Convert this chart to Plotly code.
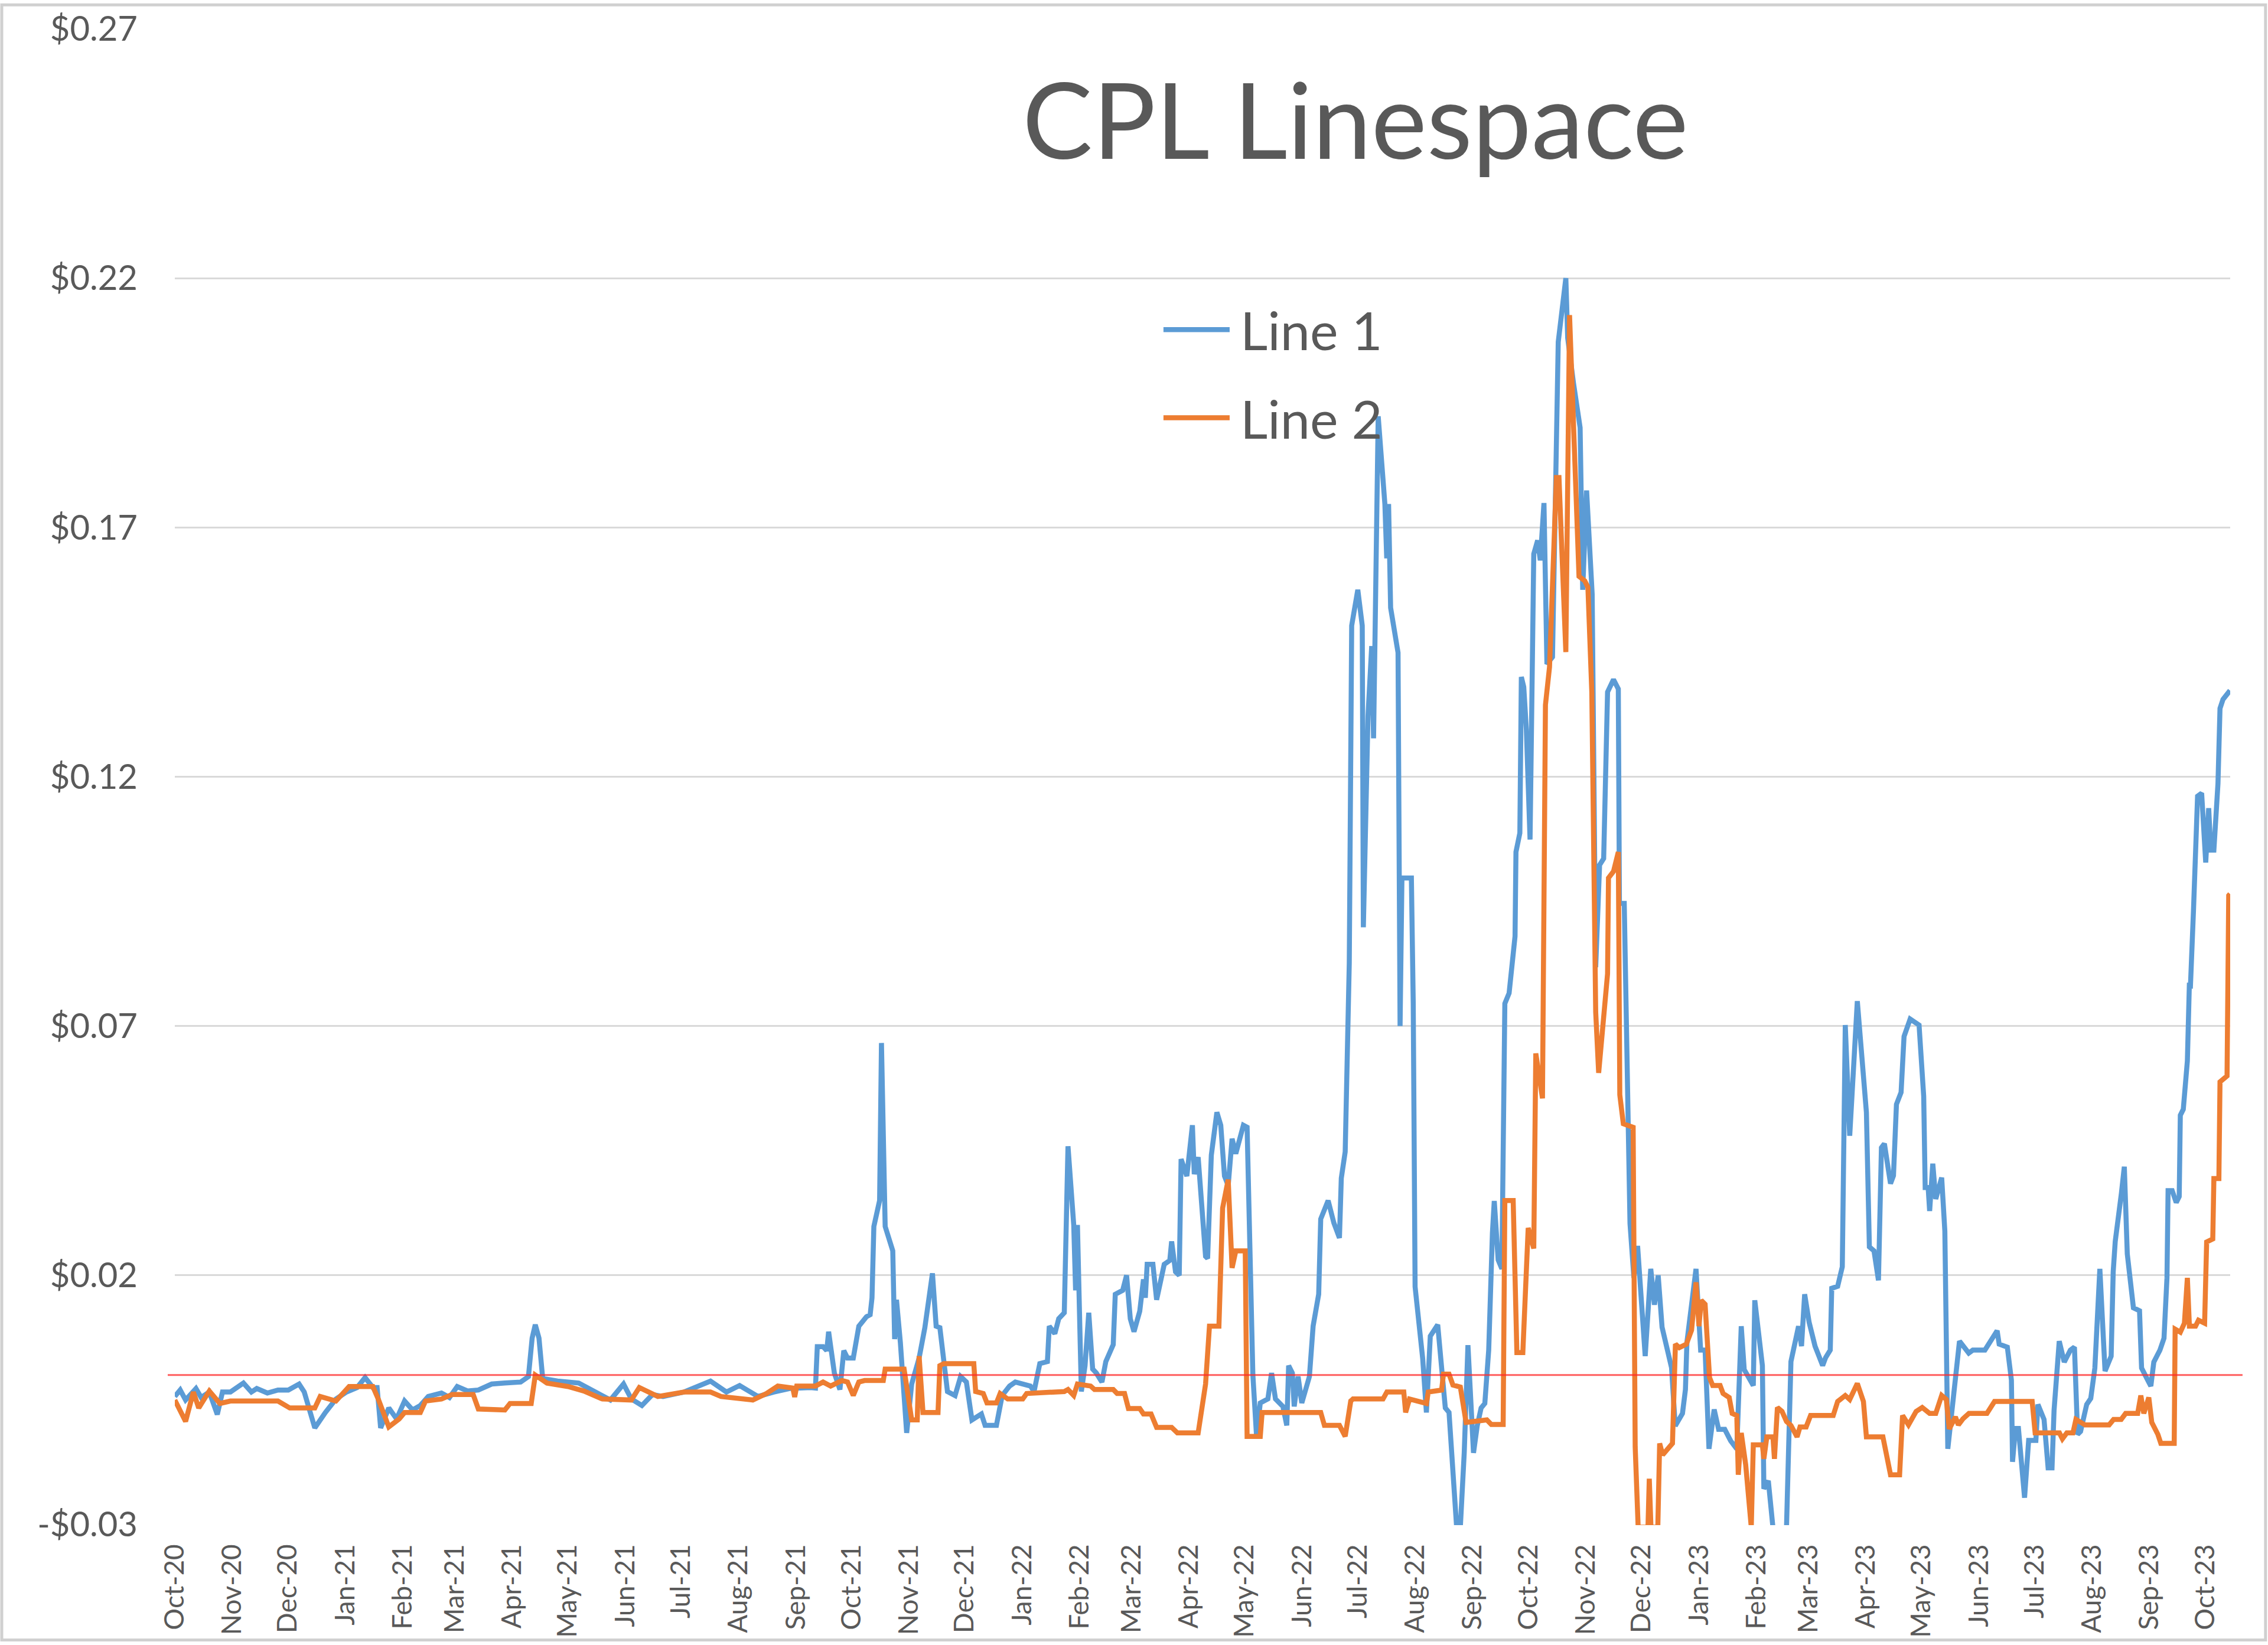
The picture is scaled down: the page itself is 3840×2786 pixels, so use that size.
import pandas as pd
import plotly.graph_objects as go

# ---------------- data ----------------
title_text = "CPL Linespace"
series_names = ["Line 1", "Line 2"]
start_date = "2020-10-01"          # day 0 of the day offsets below
axis_end_day = 1108.5

# Line 1: (days after start_date, value in $)
line1_days = [0, 2.9, 5.8, 11.4, 14.2, 18.6, 22.9, 25.7, 30, 37, 41.3, 44.2, 49.9, 55.6, 61.2, 67, 69.8, 75.5,
              81.2, 86.9, 92.6, 98.3, 102.6, 106.8, 109.1, 111, 115.4, 119.6, 123.9, 128.2, 132.4, 136.7, 143.8,
              148.1, 152.3, 158, 163.7, 170.9, 178, 186.5, 190.7, 192.7, 194.4, 196.4, 198.4, 206.4, 217.8, 229.2,
              234.9, 242, 246.2, 251.9, 257.6, 263.3, 274.7, 288.9, 297.5, 304.6, 314.5, 323, 331.6, 342.9,
              345.5, 346.5, 349.6, 351.6, 352.6, 355.7, 358.7, 360.8, 362.8, 365.9, 368.9, 373, 375, 376, 377,
              380.1, 381.1, 383.1, 387.2, 388.2, 389.2, 391.3, 394.7, 397.4, 401.4, 404.5, 408.6, 410.6, 412.6,
              416.7, 420.8, 423.8, 426.9, 429.9, 435, 437, 443.1, 446.2, 450.2, 453.3, 457.3, 461.4, 463.4, 466.5,
              470.6, 471.6, 474.6, 476.7, 479.7, 481.7, 484.8, 485.8, 486.8, 488.9, 490.9, 492.9, 495, 497, 500,
              502.1, 506.1, 507.2, 511.2, 513.3, 515.3, 517.3, 520.4, 522.4, 523.4, 524.4, 527.5, 529.5, 533.6,
              536.6, 537.6, 539.7, 541.7, 542.7, 545.8, 548.8, 549.8, 551.9, 555.9, 557, 559, 562, 564.1, 566.1,
              568.1, 570.2, 572.2, 576.3, 578.3, 580.3, 581.4, 583.4, 585.4, 589.5, 591.5, 593.6, 597.6, 599.7,
              600.7, 602.7, 603.7, 605.8, 607.8, 611.9, 613.9, 616.9, 618, 622, 625.1, 628.1, 629.1, 631.2, 632.3,
              633.4, 634.7, 638, 640.4, 641, 643.5, 645.5, 646.5, 647.5, 649, 652.6, 653.6, 654.6, 655.7, 659.7,
              660.2, 660.8, 661.8, 666.9, 667.9, 668.9, 673, 675, 677.1, 681.1, 683.2, 685.2, 687.2, 689.3, 691.3,
              693.3, 695.4, 697.4, 700.4, 702.4, 704.5, 706.5, 708.6, 710.6, 711.6, 713.7, 715.7, 717.3, 719.6,
              722.8, 723.3, 725.4, 726.2, 727.5, 728.9, 730.9, 732.9, 735, 736.4, 738.4, 740, 743, 746.1, 750.2,
              751.2, 754.3, 757.9, 759.3, 761.4, 764.4, 766.3, 768.4, 770.6, 772.7, 775.9, 778.5, 779.1, 781.7,
              782.8, 784.8, 786.9, 788.9, 793, 796, 798, 800, 802.1, 807.2, 809.2, 813.1, 814.7, 815.5, 820.4,
              822.9, 825.3, 827.4, 830.2, 832.6, 835.9, 839.1, 842.4, 844.8, 846.4, 851.3, 852.1, 856.2, 857,
              859.4, 861.9, 869.2, 871.6, 875.7, 877.3, 879, 881.4, 884.6, 888.7, 890.3, 892.8, 893.6, 896.8,
              899.3, 900.9, 903.3, 907.4, 912.3, 913.9, 916.4, 918.8, 920.4, 922, 925.3, 926.9, 928.5, 931, 932.6,
              935.9, 940.7, 943.2, 944, 945.6, 946.4, 948.1, 949.7, 952.9, 954.6, 956.2, 962.5, 967.5, 969.7,
              976.2, 978.4, 982.8, 983.9, 988.3, 990.5, 991.1, 992.7, 994.3, 997.6, 999.8, 1003.7, 1004.8, 1008.1,
              1010.3, 1012.4, 1013.5, 1016.3, 1019, 1022.3, 1024.5, 1026.2, 1027.8, 1031.1, 1033.3, 1035.5,
              1038.2, 1041, 1044.3, 1045.4, 1046.5, 1049.8, 1051.4, 1053, 1056.3, 1059.6, 1060.7, 1064, 1065.7,
              1067.3, 1070.6, 1072.8, 1074.4, 1075, 1077.2, 1079.4, 1081, 1081.6, 1083.2, 1085.4, 1086.5, 1087,
              1088.7, 1090.9, 1093.1, 1095.3, 1096.9, 1098, 1099.7, 1101.9, 1103, 1104.6, 1108.4]
line1_vals = [-0.0043, -0.003, -0.005, -0.0027, -0.0045, -0.0034, -0.0079, -0.0034, -0.0034, -0.0016, -0.0034,
              -0.0027, -0.0036, -0.003, -0.003, -0.0018, -0.0034, -0.0106, -0.0075, -0.0048, -0.0034, -0.0025,
              -0.0005, -0.0025, -0.0025, -0.0106, -0.0066, -0.0088, -0.0052, -0.007, -0.0061, -0.0043, -0.0036,
              -0.0045, -0.0023, -0.0032, -0.003, -0.0018, -0.0016, -0.0014, -0.0003, 0.0074, 0.0101, 0.0074,
              -0.0007, -0.0012, -0.0016, -0.0039, -0.005, -0.0018, -0.0048, -0.0061, -0.0039, -0.0043, -0.0034,
              -0.0012, -0.0034, -0.0021, -0.0043, -0.0034, -0.0027, -0.0025,
              -0.0026, 0.0057, 0.0057, 0.0049, 0.0087, 0.0004, -0.0029, 0.0049, 0.0034, 0.0034, 0.0098, 0.0117,
              0.0121, 0.0155, 0.0298, 0.035, 0.0666, 0.0298, 0.0249, 0.0072, 0.0151, 0.0065, -0.0116, -0.0018,
              0.0034, 0.0095, 0.0204, 0.0098, 0.0095, -0.0033, -0.0041, -0.0003, -0.0014, -0.009, -0.0078,
              -0.0101, -0.0101, -0.0041, -0.0022, -0.0014, -0.0018, -0.0022, -0.0033, 0.0023, 0.0027, 0.0098,
              0.0083, 0.0113, 0.0125, 0.0459, 0.0301, 0.017, 0.0301, -0.0033, 0.0019, 0.0125, 0.0012, 0.0004,
              -0.0014, 0.0027, 0.0061, 0.0162, 0.017, 0.02, 0.0113, 0.0087, 0.0128, 0.0192, 0.0155, 0.0222,
              0.0222, 0.0151, 0.0222, 0.023, 0.0268, 0.0207, 0.02, 0.0433, 0.0399, 0.0501, 0.0403, 0.0437, 0.0238,
              0.0234, 0.0441, 0.0527, 0.0501, 0.0399, 0.038, 0.0474, 0.0444, 0.0501, 0.0497, 0.0147, 0.0001,
              -0.0123, -0.0056, -0.0048, 0.0004, -0.0048, -0.0063, -0.0101, 0.0019, 0.0004, -0.0063, -0.0003,
              -0.0056, -0.0003, 0.0098, 0.0162, 0.0313, 0.035, 0.0305, 0.0275, 0.0395, 0.0448, 0.0691, 0.0826,
              0.1503, 0.1575, 0.1503, 0.0898, 0.1322, 0.1462, 0.1277, 0.1602, 0.1923, 0.1747, 0.1638, 0.1747,
              0.1539, 0.1449, 0.1002, 0.07, 0.0997, 0.0997, 0.0745, 0.0177, 0.0033, -0.0075, 0.0078, 0.0101,
              0.0015, -0.0066, -0.0075, -0.0183, -0.0305, -0.0305, -0.0156, 0.006, -0.0156, -0.0102, -0.0066,
              -0.0057, 0.005, 0.0285, 0.0349, 0.0231, 0.0213, 0.0745, 0.0766, 0.088, 0.1049, 0.1087, 0.14, 0.138,
              0.1295, 0.1074, 0.1647, 0.1674, 0.1634, 0.1749, 0.1426, 0.144, 0.2072, 0.22, 0.208, 0.199, 0.19,
              0.1575, 0.1774, 0.1566, 0.0818, 0.1023, 0.1036, 0.137, 0.1395, 0.1376, 0.0946, 0.0946, 0.0736,
              0.0304, 0.0195, 0.0259, 0.0038, 0.0213, 0.0141, 0.02, 0.0096, 0.0015, -0.0102, -0.0077, -0.0029,
              0.0066, 0.0213, 0.005, 0.005, -0.0148, -0.0069, -0.0109, -0.0109, -0.0132, -0.0148, 0.0098, 0.0011,
              -0.0021, 0.015, 0.0019, -0.0228, -0.0212, -0.0306, -0.0306, 0.0027, 0.0098, 0.0058, 0.0162, 0.0106,
              0.0058, 0.0019, 0.0035, 0.005, 0.0174, 0.0178, 0.0217, 0.0702, 0.048, 0.075, 0.0527, 0.0257, 0.0249,
              0.019, 0.0456, 0.0464, 0.0384, 0.04, 0.0543, 0.0567, 0.0679, 0.0714, 0.0702, 0.0559, 0.0376, 0.0376,
              0.0329, 0.0424, 0.0353, 0.0396, 0.0289, -0.0148, 0.0068, 0.0044, 0.005, 0.005, 0.0062, 0.0089,
              0.0062, 0.0056, -0.001, -0.0174, -0.0107, -0.0107, -0.0246, -0.0131, -0.0131, -0.0059, -0.0089,
              -0.0186, -0.0186, -0.0071, 0.0068, 0.0026, 0.005, 0.0056, -0.0119, -0.0113, -0.0059, -0.0047,
              0.0014, 0.0213, 0.0008, 0.0038, 0.0207, 0.0268, 0.0364, 0.0418, 0.0243, 0.0135, 0.0129, 0.0014,
              -0.001, -0.0022, 0.0026, 0.005, 0.0074, 0.0195, 0.037, 0.037, 0.0346, 0.0358, 0.0521, 0.0533, 0.063,
              0.0787, 0.0775, 0.0932, 0.1161, 0.1167, 0.1028, 0.1137, 0.1053, 0.1053, 0.1186, 0.1337, 0.1355,
              0.1373]

# Line 2: (days after start_date, value in $)
line2_days = [0, 5.8, 10, 12.9, 18.6, 24.3, 30, 55.6, 62, 75.5, 78.4, 86.9, 94, 106.8, 109.7, 115.4, 121, 123.9,
              132.4, 135.2, 143.8, 149.5, 160.9, 163.7, 178, 180.8, 192.2, 194.4, 200.7, 212, 220.6, 230.6, 246.2,
              250.5, 260.5, 274.7, 288.9, 294.6, 311.7, 319.1, 325.2, 333.3, 334.3, 335.4, 345.5, 349.6, 353.7,
              359.8, 362.8, 365.9, 368.9, 372, 382.1, 383.1, 393.3, 397.4, 400.4, 401.4, 403.5, 411.6, 412.6,
              414.7, 430.9, 431.9, 436, 438, 443.1, 445.1, 449.2, 457.3, 459.4, 479.7, 481.7, 484.8, 486.8, 493.9,
              496, 506.1, 508.2, 512.2, 514.3, 520.4, 522.4, 526.5, 529.5, 537.6, 540.7, 551.9, 555.9, 558, 563.1,
              565.1, 568.1, 570.2, 572.2, 577.3, 578.3, 585.4, 586.4, 618, 620, 628.1, 631.2, 634.2, 635.4, 651.6,
              653.7, 662.8, 663.8, 665.9, 675, 676, 683.2, 684.2, 687.2, 689.3, 693.3, 696.4, 707.6, 710, 716.4,
              717.3, 721.8, 723.8, 727, 729.9, 732.9, 734, 737.6, 739.2, 741.4, 745.1, 746.5, 750.2, 752.2, 757.3,
              760.4, 762.1, 764.2, 766.3, 767.9, 769.5, 772.7, 773.2, 775.9, 778.5, 779.3, 781.2, 786.5, 787.6,
              789.2, 794.5, 795.2, 796.1, 799.8, 800.8, 802.4, 807.7, 809.3, 811.4, 815.2, 818, 820.4, 822, 823.2,
              825.3, 827.7, 829.4, 833.4, 835, 838.3, 839.9, 842.4, 843.2, 844.8, 847.2, 850.2, 851.3, 856.2, 857,
              858.6, 861.9, 862.7, 864.3, 866.8, 869.2, 871.6, 874.9, 876.5, 879.8, 882.2, 894.4, 896.8, 900.9,
              903.3, 907.4, 910.7, 912.3, 921.2, 925.3, 930.2, 931.8, 935, 939.1, 942.4, 946.4, 949.7, 952.9,
              955.4, 957, 960.3, 961.9, 964.3, 967.6, 977.3, 981.4, 1001.7, 1003.3, 1016.4, 1018, 1020.4, 1023.7,
              1025.3, 1030.2, 1043.2, 1045.6, 1049.7, 1052.1, 1058.6, 1060.3, 1061.9, 1064.6, 1066.2, 1069.5,
              1071.1, 1078.3, 1078.8, 1081.6, 1083.8, 1085.4, 1086.5, 1089.8, 1091.4, 1094.7, 1095.8, 1099.1,
              1099.7, 1102.4, 1103, 1106.8, 1107.7, 1108.4]
line2_vals = [-0.005, -0.0093, -0.0034, -0.0066, -0.0032, -0.0057, -0.0052, -0.0052, -0.0066, -0.0066, -0.0043,
              -0.0052, -0.0023, -0.0023, -0.0048, -0.0104, -0.0088, -0.0075, -0.0075, -0.0052, -0.0048, -0.0039,
              -0.0039, -0.0068, -0.007, -0.0057, -0.0057, 0.0, -0.0016, -0.0023, -0.0032, -0.0048, -0.005, -0.0025,
              -0.0043, -0.0034, -0.0034, -0.0043, -0.005, -0.0037, -0.0022, -0.0026, -0.0044, -0.0022, -0.0022,
              -0.0014, -0.0022, -0.0011, -0.0014, -0.0041, -0.0014, -0.0011, -0.0011, 0.0012, 0.0012, -0.009,
              -0.009, 0.0038, -0.0075, -0.0075, 0.0019, 0.0023, 0.0023, -0.0033, -0.0037, -0.0056, -0.0056, -0.0037,
              -0.0048, -0.0048, -0.0037, -0.0033, -0.0029, -0.0041, -0.0018, -0.0022, -0.0029, -0.0029, -0.0037,
              -0.0037, -0.0067, -0.0067, -0.0078, -0.0078, -0.0105, -0.0105, -0.0116, -0.0116, -0.0018, 0.0098,
              0.0098, 0.0335, 0.0392, 0.0215, 0.0249, 0.0249, -0.0123, -0.0123, -0.0075, -0.0075, -0.0101, -0.0101,
              -0.0123, -0.0052, -0.0048, -0.0048, -0.0034, -0.0034, -0.0075, -0.0048, -0.0057, -0.0034, -0.003,
              0.0002, 0.0002, -0.002, -0.0024, -0.0095, -0.009, -0.0099, -0.0099, 0.035, 0.035, 0.0045, 0.0045,
              0.0295, 0.0254, 0.0645, 0.0555, 0.1344, 0.142, 0.18, 0.18, 0.145, 0.2126, 0.1602, 0.1593, 0.158,
              0.137, 0.0728, 0.0606, 0.0677, 0.0805, 0.0997, 0.101, 0.1049, 0.0562, 0.0504, 0.0497, -0.0144,
              -0.0305, -0.0305, -0.0208, -0.0305, -0.0305, -0.0137, -0.016, -0.0137, 0.0062, 0.0055, 0.0062, 0.009,
              0.0186, 0.0098, 0.015, 0.0142, -0.0005, -0.0021, -0.0021, -0.0037, -0.0045, -0.0077, -0.0081, -0.02,
              -0.0116, -0.018, -0.0305, -0.014, -0.014, -0.0168, -0.0124, -0.0124, -0.0168, -0.0065, -0.0073,
              -0.0093, -0.0101, -0.0124, -0.0104, -0.0104, -0.0081, -0.0081, -0.0053, -0.0041, -0.0049, -0.0017,
              -0.0053, -0.0124, -0.0124, -0.02, -0.02, -0.0081, -0.01, -0.0073, -0.0065, -0.0077, -0.0077, -0.0041,
              -0.0049, -0.0108, -0.0084, -0.01, -0.0088, -0.0077, -0.0077, -0.0053, -0.0053, -0.0116, -0.0116,
              -0.0128, -0.0116, -0.0116, -0.0089, -0.01, -0.01, -0.0089, -0.0089, -0.0077, -0.0077, -0.0041,
              -0.0077, -0.0045, -0.0095, -0.0119, -0.0137, -0.0137, 0.0092, 0.0086, 0.0104, 0.0195, 0.0098, 0.0098,
              0.011, 0.0104, 0.0267, 0.0273, 0.0394, 0.0394, 0.0588, 0.06, 0.0962, 0.0965]

zero_level = 0.0
y_tick_vals = [-0.03, 0.02, 0.07, 0.12, 0.17, 0.22, 0.27]
y_tick_text = ["-$0.03", "$0.02", "$0.07", "$0.12", "$0.17", "$0.22", "$0.27"]

# ---------------- styles ----------------
FONT = "Lato"
TEXT_COLOR = "#595959"
BLUE = "#5B9BD5"
ORANGE = "#ED7D31"
GRID = "#D9D9D9"
LW = 8.5

base = pd.Timestamp(start_date)
x1 = base + pd.to_timedelta(line1_days, unit="D")
x2 = base + pd.to_timedelta(line2_days, unit="D")
x_end = base + pd.to_timedelta(axis_end_day, unit="D")

fig = go.Figure()
fig.add_trace(go.Scatter(x=x1, y=line1_vals, mode="lines", name=series_names[0],
                         line=dict(color=BLUE, width=LW), showlegend=False))
fig.add_trace(go.Scatter(x=x2, y=line2_vals, mode="lines", name=series_names[1],
                         line=dict(color=ORANGE, width=LW), showlegend=False))

fig.update_layout(
    width=3840, height=2786, autosize=False,
    margin=dict(l=296, r=64, t=43, b=199, pad=0),
    paper_bgcolor="white", plot_bgcolor="white",
    font=dict(family=FONT, color=TEXT_COLOR),
    showlegend=False,
)
fig.update_xaxes(
    type="date", range=[base, x_end],
    tick0=start_date, dtick="M1", tickformat="%b-%y", tickangle=-90,
    tickfont=dict(family=FONT, size=46, color=TEXT_COLOR),
    showgrid=False, zeroline=False, showline=False, ticks="", ticklabelstandoff=22,
)
fig.update_yaxes(
    range=[-0.0301, 0.2701], tickvals=y_tick_vals, ticktext=y_tick_text,
    tickfont=dict(family=FONT, size=58, color=TEXT_COLOR),
    showgrid=True, gridcolor=GRID, gridwidth=3,
    zeroline=False, showline=False, ticks="", ticklabelstandoff=62,
)

# red reference line at zero
fig.add_shape(type="line", xref="paper", yref="y", x0=-0.00345, x1=1.006, y0=zero_level, y1=zero_level,
              line=dict(color="rgba(255,40,40,0.75)", width=3), layer="above")

# chart-area border
fig.add_shape(type="rect", xref="paper", yref="paper", x0=-0.0842, x1=1.0172, y0=-0.0767, y1=1.0157,
              line=dict(color="#D0D0D0", width=5), layer="below")

# title
fig.add_annotation(text=title_text, xref="paper", yref="paper", x=0.5744, y=0.9399,
                   xanchor="center", yanchor="middle", showarrow=False,
                   font=dict(family=FONT, size=178, color=TEXT_COLOR))

# legend (drawn by hand for the long Excel-style line samples)
legend_rows = [(series_names[0], BLUE, 0.7987), (series_names[1], ORANGE, 0.7398)]
for name, color, yy in legend_rows:
    fig.add_shape(type="line", xref="paper", yref="paper", x0=0.4810, x1=0.5132, y0=yy, y1=yy,
                  line=dict(color=color, width=LW), layer="above")
    fig.add_annotation(text=name, xref="paper", yref="paper", x=0.5178, y=yy,
                       xanchor="left", yanchor="middle", showarrow=False,
                       font=dict(family=FONT, size=90, color=TEXT_COLOR))

fig.write_html("out.html", config={"displayModeBar": False},
               post_script="document.body.style.margin='0';document.body.style.overflow='hidden';")
